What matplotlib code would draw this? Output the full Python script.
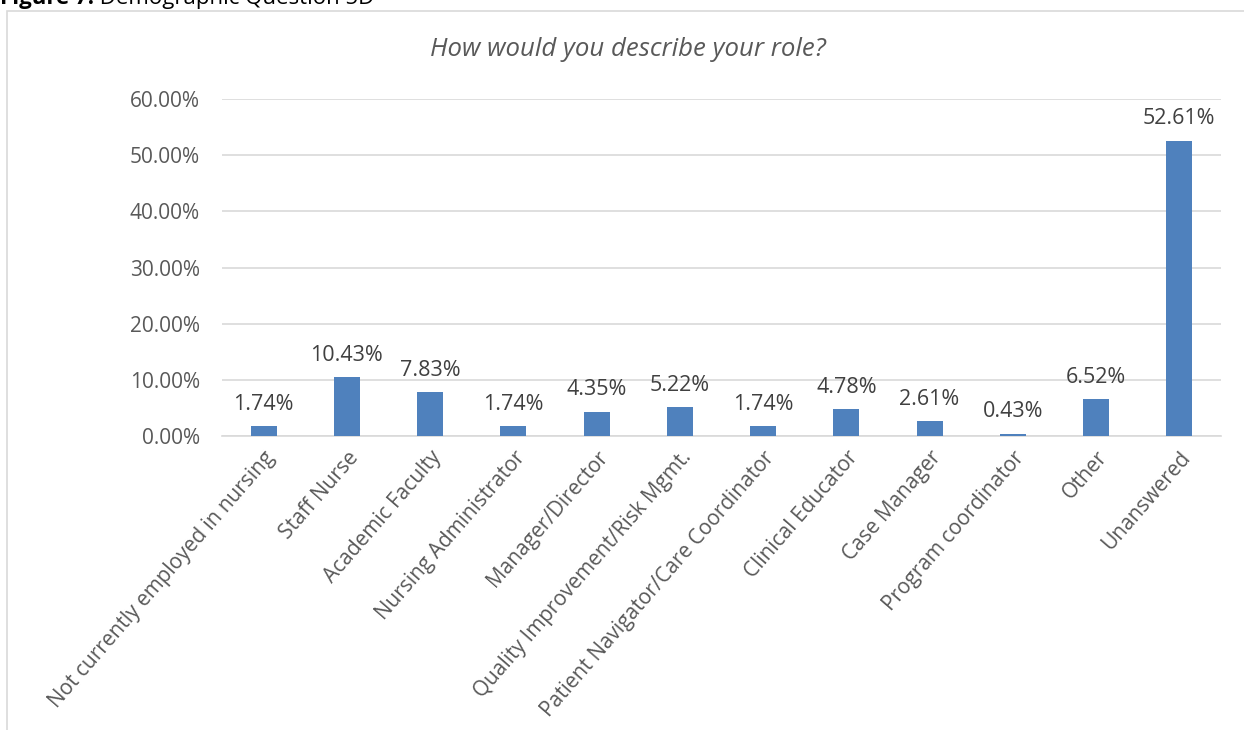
import matplotlib.pyplot as plt
import matplotlib.patches as patches
from matplotlib.ticker import FuncFormatter

plt.rcParams['font.family'] = ['Open Sans', 'DejaVu Sans']

roles = ['Not currently employed in nursing', 'Staff Nurse', 'Academic Faculty',
         'Nursing Administrator', 'Manager/Director', 'Quality Improvement/Risk Mgmt.',
         'Patient Navigator/Care Coordinator', 'Clinical Educator', 'Case Manager',
         'Program coordinator', 'Other', 'Unanswered']
shares = [1.74, 10.43, 7.83, 1.74, 4.35, 5.22, 1.74, 4.78, 2.61, 0.43, 6.52, 52.61]

fig = plt.figure(figsize=(12.44, 7.3), dpi=100)

# chart frame
fig.patches.append(patches.Rectangle((7 / 1244, -0.05), 1.1, 1 - 11 / 730 + 0.05,
                                     transform=fig.transFigure, fill=False,
                                     edgecolor='#d9d9d9', linewidth=1.2))

# caption above the chart (runs off the top edge)
cap_y = 1 - 4 / 730
t1 = fig.text(0.0, cap_y, 'Figure 7:', fontsize=16, fontweight='bold',
              color='black', va='baseline', ha='left')
renderer = fig.canvas.get_renderer()
bb = t1.get_window_extent(renderer).transformed(fig.transFigure.inverted())
fig.text(bb.x1, cap_y, ' Demographic Question 5D', fontsize=16,
         color='black', va='baseline', ha='left')

ax = fig.add_axes([222 / 1244, 1 - 436 / 730, (1221 - 222) / 1244, (436 - 99) / 730])
x = range(len(roles))
ax.bar(x, shares, width=0.31, color='#4f81bd', zorder=3)

for xi, v in zip(x, shares):
    ax.annotate('%.2f%%' % v, (xi, v), xytext=(0, 8), textcoords='offset points',
                ha='center', va='bottom', fontsize=15.5, color='#404040')

ax.set_xlim(-0.5, len(roles) - 0.5)
ax.set_ylim(0, 60)
ax.set_yticks(range(0, 61, 10))
ax.yaxis.set_major_formatter(FuncFormatter(lambda v, p: '%.2f%%' % v))
ax.grid(axis='y', color='#d9d9d9', linewidth=1.2, zorder=0)
for s in ['top', 'right', 'left']:
    ax.spines[s].set_visible(False)
ax.spines['bottom'].set_color('#d9d9d9')
ax.spines['bottom'].set_linewidth(1.2)
ax.tick_params(length=0, colors='#595959')
ax.tick_params(axis='y', labelsize=15, pad=16)
ax.set_xticks(list(x))
ax.set_xticklabels(roles, rotation=49, ha='right', rotation_mode='anchor')
ax.tick_params(axis='x', labelsize=15, pad=8)

fig.text(628 / 1244, 1 - 50 / 730, 'How would you describe your role?', fontsize=18.5,
         style='italic', color='#595959', ha='center', va='center')

fig.savefig('out.png', dpi=100)
